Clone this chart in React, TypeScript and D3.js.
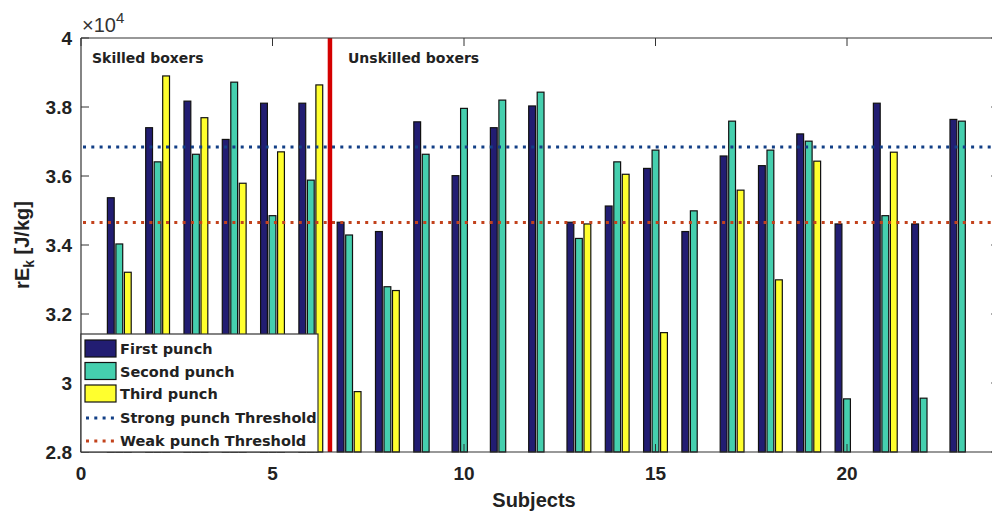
import React from "react";
import * as d3 from "d3";

const subjects = d3.range(1, 24);
const firstPunch = [35370, 37400, 38170, 37060, 38110, 38110, 34660, 34390, 37570, 36010, 37400, 38030, 34660, 35130, 36220, 34390, 36580, 36300, 37220, 34610, 38110, 34610, 37640];
const secondPunch = [34030, 36410, 36630, 38720, 34850, 35880, 34290, 32790, 36630, 37960, 38200, 38430, 34190, 36410, 36750, 34990, 37590, 36750, 37010, 29540, 34850, 29560, 37590];
const thirdPunch: (number | null)[] = [33210, 38900, 37690, 35790, 36700, 38640, 29750, 32680, null, null, null, null, 34610, 36050, 31460, null, 35590, 32990, 36430, null, 36690, null, null];
const strongThreshold = 36840;
const weakThreshold = 34650;
const dividerX = 6.5;
const yTicks = [28000, 30000, 32000, 34000, 36000, 38000, 40000];
const xTicks = [0, 5, 10, 15, 20];

const seriesNames = ["First punch", "Second punch", "Third punch"];
const seriesColors = ["#221d72", "#45cfae", "#ffff2e"];

export default function App() {
  const W = 992, H = 516;
  const left = 81, top = 38, bottom = 452;
  const x = d3.scaleLinear().domain([0, 24]).range([left, left + 24 * 38.3]);
  const y = d3.scaleLinear().domain([28000, 40000]).range([bottom, top]);
  const series = [firstPunch, secondPunch, thirdPunch];
  const spacing = 0.222, bw = 0.178;
  const unit = x(1) - x(0);
  const right = x(24);
  const tickFont = "Liberation Sans, Arial, sans-serif";
  const annFont = "DejaVu Sans, Verdana, sans-serif";

  return (
    <svg width={W} height={H} style={{ position: "absolute", left: 0, top: 0, background: "#fff" }}>
      <rect x={0} y={0} width={W} height={H} fill="#fff" />
      {/* bars */}
      {series.map((vals, si) =>
        subjects.map((s, i) => {
          const v = vals[i];
          if (v == null) return null;
          const cx = x(s + (si - 1) * spacing);
          return (
            <rect key={`${si}-${i}`} x={cx - (bw * unit) / 2} y={y(v)} width={bw * unit} height={bottom - y(v)}
              fill={seriesColors[si]} stroke="#111" strokeWidth={1.2} />
          );
        })
      )}
      {/* thresholds */}
      <line x1={left + 2} x2={W} y1={y(strongThreshold)} y2={y(strongThreshold)} stroke="#123f86" strokeWidth={3} strokeDasharray="3 5.3" />
      <line x1={left + 2} x2={W} y1={y(weakThreshold)} y2={y(weakThreshold)} stroke="#c2421c" strokeWidth={3} strokeDasharray="3 5.3" />
      {/* divider */}
      <line x1={x(dividerX)} x2={x(dividerX)} y1={top} y2={bottom} stroke="#d40000" strokeWidth={4.5} />
      {/* axes box */}
      <line x1={left} x2={right} y1={top} y2={top} stroke="#333" strokeWidth={1.2} />
      <line x1={left} x2={right} y1={bottom} y2={bottom} stroke="#333" strokeWidth={1.2} />
      <line x1={left} x2={left} y1={top} y2={bottom} stroke="#333" strokeWidth={1.2} />
      <line x1={right} x2={right} y1={top} y2={bottom} stroke="#333" strokeWidth={1.2} />
      {yTicks.map((t) => (
        <g key={t}>
          <line x1={left} x2={left + 8} y1={y(t)} y2={y(t)} stroke="#333" strokeWidth={1} />
          <line x1={right} x2={right - 9} y1={y(t)} y2={y(t)} stroke="#333" strokeWidth={1} />
          <text x={72} y={y(t) + 7} textAnchor="end" fontFamily={tickFont} fontWeight="bold" fontSize={19} fill="#222">
            {d3.format("~g")(t / 10000)}
          </text>
        </g>
      ))}
      {xTicks.map((t) => (
        <g key={t}>
          <line x1={x(t)} x2={x(t)} y1={top} y2={top + 8} stroke="#333" strokeWidth={1} />
          <line x1={x(t)} x2={x(t)} y1={bottom} y2={bottom - 8} stroke="#333" strokeWidth={1} />
          <text x={x(t)} y={480} textAnchor="middle" fontFamily={tickFont} fontWeight="bold" fontSize={19} fill="#222">
            {t}
          </text>
        </g>
      ))}
      {/* exponent */}
      <text x={82} y={32} fontFamily={tickFont} fontSize={20} fill="#333">
        ×10<tspan dy={-9} fontSize={15}>4</tspan>
      </text>
      {/* axis labels */}
      <text x={534} y={507} textAnchor="middle" fontFamily={tickFont} fontWeight="bold" fontSize={20} fill="#222">Subjects</text>
      <text transform={`translate(29,${(top + bottom) / 2}) rotate(-90)`} textAnchor="middle" fontFamily={tickFont} fontWeight="bold" fontSize={20} fill="#222">
        rE<tspan dy={5} fontSize={14}>k</tspan><tspan dy={-5}> [J/kg]</tspan>
      </text>
      {/* annotations */}
      <text x={92} y={63} fontFamily={annFont} fontWeight="bold" fontSize={14} fill="#222">Skilled boxers</text>
      <text x={348} y={63} fontFamily={annFont} fontWeight="bold" fontSize={14} fill="#222">Unskilled boxers</text>
      {/* legend */}
      <rect x={left} y={334} width={318 - left} height={bottom - 334} fill="#fff" stroke="#333" strokeWidth={1.2} />
      {seriesNames.map((n, i) => (
        <g key={n}>
          <rect x={85} y={340 + i * 22.5} width={31} height={17} fill={seriesColors[i]} stroke="#111" strokeWidth={1.2} />
          <text x={120} y={354 + i * 22.5} fontFamily={annFont} fontWeight="bold" fontSize={14.5} fill="#222">{n}</text>
        </g>
      ))}
      <line x1={86} x2={116} y1={418} y2={418} stroke="#123f86" strokeWidth={3} strokeDasharray="3 5.3" />
      <text x={120} y={423} fontFamily={annFont} fontWeight="bold" fontSize={14.5} fill="#222">Strong punch Threshold</text>
      <line x1={86} x2={116} y1={441} y2={441} stroke="#c2421c" strokeWidth={3} strokeDasharray="3 5.3" />
      <text x={120} y={446} fontFamily={annFont} fontWeight="bold" fontSize={14.5} fill="#222">Weak punch Threshold</text>
    </svg>
  );
}
